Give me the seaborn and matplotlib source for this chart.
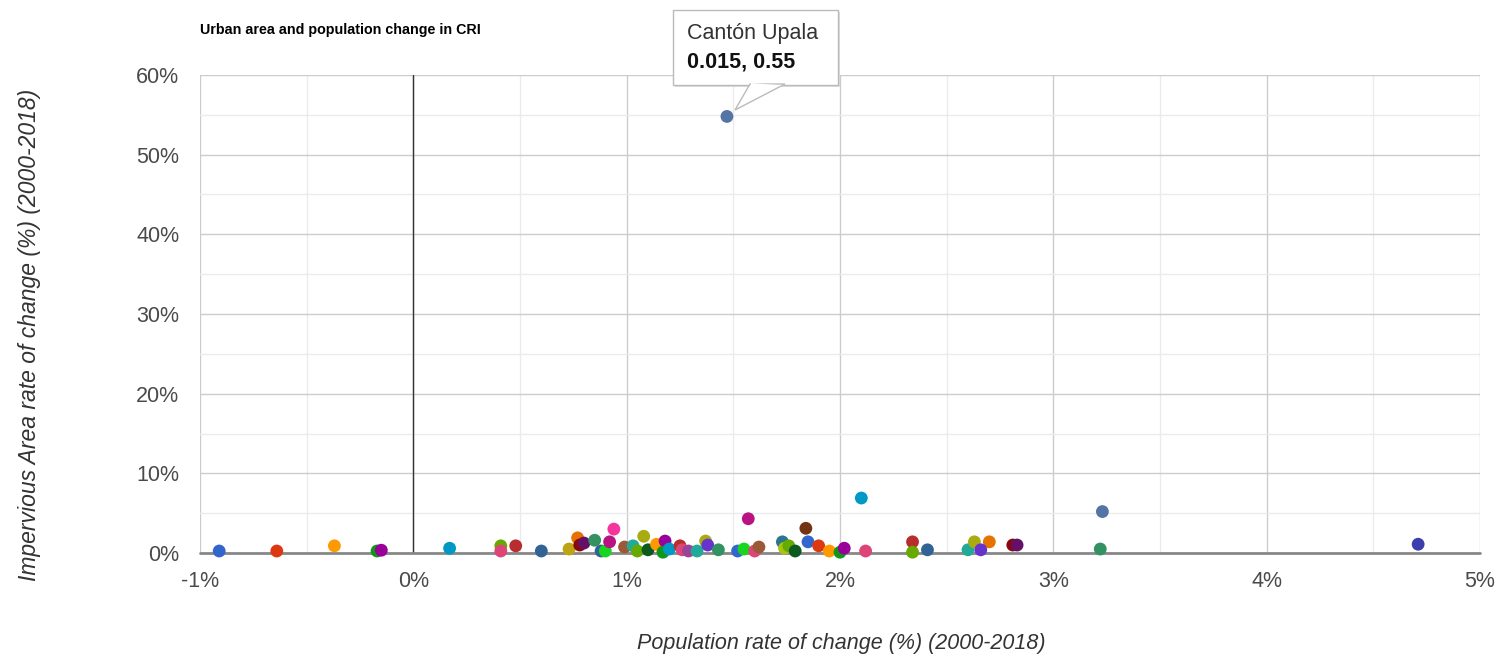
import matplotlib
matplotlib.use("Agg")
import matplotlib.pyplot as plt
import seaborn as sns
import pandas as pd
from matplotlib.ticker import PercentFormatter, MultipleLocator
from matplotlib.patches import FancyBboxPatch, Polygon

# ---- data (fractions) ----
pop_change = [
    -0.0091, -0.0064, -0.0037, -0.0017, -0.0015, 0.0017, 0.0041, 0.0041, 0.0048, 0.0060,
    0.0073, 0.0077, 0.0078, 0.0080, 0.0085, 0.0088, 0.0090, 0.0094, 0.0092, 0.0099,
    0.0103, 0.0108, 0.0105, 0.0110, 0.0114, 0.0118, 0.0117, 0.0120, 0.0125, 0.0126,
    0.0129, 0.0133, 0.0137, 0.0138, 0.0143, 0.0147, 0.0152, 0.0155, 0.0160, 0.0162,
    0.0157, 0.0173, 0.0174, 0.0176, 0.0179, 0.0184, 0.0185, 0.0190, 0.0195, 0.0200,
    0.0202, 0.0210, 0.0212, 0.0234, 0.0234, 0.0241, 0.0260, 0.0263, 0.0270, 0.0266,
    0.0281, 0.0283, 0.0323, 0.0322, 0.0471,
]
area_change = [
    0.0025, 0.0025, 0.009, 0.0025, 0.0035, 0.006, 0.009, 0.0025, 0.009, 0.0025,
    0.005, 0.019, 0.010, 0.0125, 0.016, 0.0025, 0.0025, 0.030, 0.014, 0.0075,
    0.009, 0.021, 0.0025, 0.004, 0.011, 0.015, 0.001, 0.005, 0.009, 0.004,
    0.0025, 0.0025, 0.015, 0.010, 0.004, 0.548, 0.0025, 0.005, 0.0025, 0.0075,
    0.043, 0.014, 0.006, 0.009, 0.0025, 0.031, 0.014, 0.009, 0.0025, 0.001,
    0.006, 0.069, 0.0025, 0.014, 0.001, 0.004, 0.004, 0.014, 0.014, 0.004,
    0.010, 0.010, 0.052, 0.005, 0.011,
]
highlight_name = "Cantón Upala"
highlight_value = "0.015, 0.55"
title = "Urban area and population change in CRI"
xlabel = "Population rate of change (%) (2000-2018)"
ylabel = "Impervious Area rate of change (%) (2000-2018)"

# ---- style: one colour per canton ----
point_colors = [
    "#3366cc", "#dc3912", "#ff9900", "#109618", "#990099", "#0099c6", "#66aa00", "#dd4477", "#b82e2e", "#316395",
    "#bea413", "#e67300", "#8b0707", "#651067", "#329262", "#316395", "#16d620", "#f4359e", "#b91383", "#9c5935",
    "#22aa99", "#aaaa11", "#66aa00", "#0c5922", "#ff9900", "#990099", "#109618", "#0099c6", "#b82e2e", "#dd4477",
    "#994499", "#22aa99", "#aaaa11", "#6633cc", "#329262", "#5574a6", "#3366cc", "#16d620", "#dd4477", "#9c5935",
    "#b91383", "#2a778d", "#a9c413", "#66aa00", "#0c5922", "#743411", "#3366cc", "#dc3912", "#ff9900", "#109618",
    "#990099", "#0099c6", "#dd4477", "#b82e2e", "#66aa00", "#316395", "#22aa99", "#aaaa11", "#e67300", "#6633cc",
    "#8b0707", "#651067", "#5574a6", "#329262", "#3b3eac",
]

df = pd.DataFrame({"pop": pop_change, "area": area_change})
df["id"] = range(len(df))

sns.set_style("white")
plt.rcParams["font.family"] = ["Arial", "Liberation Sans", "DejaVu Sans"]
plt.rcParams["axes.unicode_minus"] = False

fig = plt.figure(figsize=(15.04, 6.59), dpi=100)
ax = fig.add_axes([200 / 1504, 1 - 553 / 659, 1280 / 1504, 478 / 659])

sns.scatterplot(data=df, x="pop", y="area", hue="id", palette=point_colors,
                legend=False, s=85, edgecolor="none", linewidth=0, ax=ax,
                zorder=5, clip_on=False)

ax.set_xlim(-0.01, 0.05)
ax.set_ylim(0, 0.6)
ax.xaxis.set_major_locator(MultipleLocator(0.01))
ax.xaxis.set_minor_locator(MultipleLocator(0.005))
ax.yaxis.set_major_locator(MultipleLocator(0.1))
ax.yaxis.set_minor_locator(MultipleLocator(0.05))
ax.xaxis.set_major_formatter(PercentFormatter(1.0, decimals=0))
ax.yaxis.set_major_formatter(PercentFormatter(1.0, decimals=0))
ax.grid(which="major", color="#cccccc", linewidth=1)
ax.grid(which="minor", color="#ebebeb", linewidth=1)
ax.set_axisbelow(True)
for s in ax.spines.values():
    s.set_visible(False)
ax.axvline(0, color="#333333", linewidth=1, zorder=2)
ax.axhline(0, color="#888888", linewidth=2, zorder=2, clip_on=False)
ax.tick_params(axis="both", which="both", length=0, labelsize=15.5, labelcolor="#4a4a4a")
ax.tick_params(axis="x", pad=13)
ax.tick_params(axis="y", pad=15)
ax.set_xlabel("")
ax.set_ylabel("")

fig.text(200 / 1504, 1 - 30 / 659, title, fontsize=10.3, fontweight="bold",
         color="#000000", va="center", ha="left")
fig.text(841 / 1504, 1 - 643 / 659, xlabel, fontsize=15.5, style="italic",
         color="#333333", ha="center", va="center")
fig.text(30 / 1504, 1 - 335 / 659, ylabel, fontsize=16.5, style="italic",
         color="#333333", ha="center", va="center", rotation=90)

# tooltip
W, H = 1504, 659
def fx(px):
    return px / W
def fy(py):
    return 1 - py / H

shadow = FancyBboxPatch((fx(675), fy(87)), fx(838) - fx(673), fy(10) - fy(85),
                        boxstyle="square,pad=0", transform=fig.transFigure,
                        fc="#dddddd", ec="none", zorder=9)
fig.patches.append(shadow)
box = FancyBboxPatch((fx(673), fy(85)), fx(838) - fx(673), fy(10) - fy(85),
                     boxstyle="square,pad=0", transform=fig.transFigure,
                     fc="white", ec="#bbbbbb", lw=1, zorder=10)
fig.patches.append(box)
tri = Polygon([(fx(750), fy(84)), (fx(785), fy(84)), (fx(735), fy(110))],
              closed=True, transform=fig.transFigure, fc="white", ec="#bbbbbb",
              lw=1, zorder=11)
fig.patches.append(tri)
cover = Polygon([(fx(751), fy(85.5)), (fx(784), fy(85.5)), (fx(751), fy(83))],
                closed=True, transform=fig.transFigure, fc="white", ec="none", zorder=12)
fig.patches.append(cover)
fig.text(fx(687), fy(33), highlight_name, fontsize=15.5, color="#333333",
         ha="left", va="center", zorder=13)
fig.text(fx(687), fy(62), highlight_value, fontsize=15.5, fontweight="bold",
         color="#111111", ha="left", va="center", zorder=13)

fig.savefig("out.png", dpi=100)
